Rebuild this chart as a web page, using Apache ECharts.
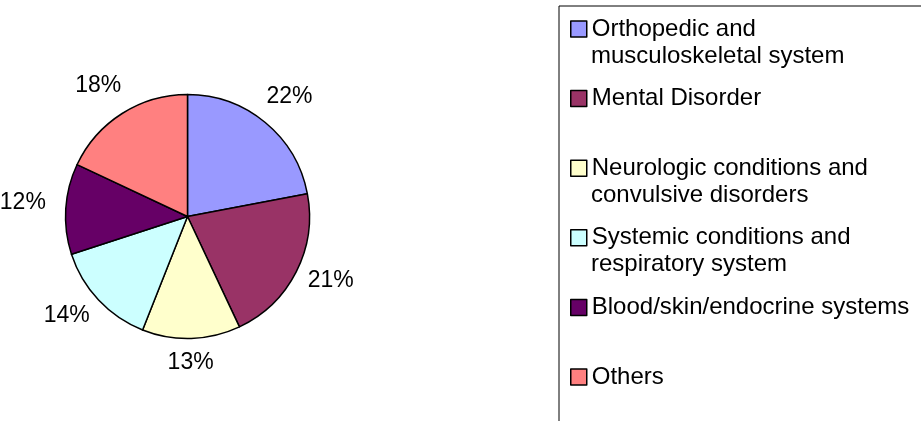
<!DOCTYPE html>
<html>
<head>
<meta charset="utf-8">
<script src="https://cdn.jsdelivr.net/npm/echarts@6/dist/echarts.min.js"></script>
<style>
  html, body { margin: 0; padding: 0; background: #fff; }
  #chart { width: 921px; height: 421px; }
</style>
</head>
<body>
<div id="chart"></div>
<script>
// categories (second line of a name goes under the first in the legend)
const categories = [
  'Orthopedic and\nmusculoskeletal system',
  'Mental Disorder',
  'Neurologic conditions and\nconvulsive disorders',
  'Systemic conditions and\nrespiratory system',
  'Blood/skin/endocrine systems',
  'Others'
];
const shares = [22, 21, 13, 14, 12, 18];
const colors = ['#9999FF', '#993366', '#FFFFCC', '#CCFFFF', '#660066', '#FF8080'];

const FONT = '"Liberation Sans", Arial, sans-serif';
const CX = 187.5, CY = 216.5, R = 122;

// legend geometry
const legendTop = 6, legendPadTop = 11, rowH = 69.6, lineH = 24, textX = 591;

const total = shares.reduce((a, b) => a + b, 0);

// place each percent label around the pie, a bit like excel does
function labelPos(i) {
  let cum = 0;
  for (let k = 0; k < i; k++) cum += shares[k];
  const a = (cum + shares[i] / 2) / total * Math.PI * 2;
  const dx = Math.sin(a), dy = -Math.cos(a);
  return {x: CX + dx * 163 - 2, y: CY + dy * 150 - 4};
}

const chart = echarts.init(document.getElementById('chart'));

const secondLines = [];
categories.forEach((name, i) => {
  const parts = name.split('\n');
  if (parts.length > 1) {
    const rowCenter = legendTop + legendPadTop + lineH / 2 + i * rowH;
    secondLines.push({
      type: 'text',
      x: textX,
      y: rowCenter + 27,
      silent: true,
      style: {
        text: parts[1],
        fill: '#000',
        fontSize: 24,
        fontFamily: FONT,
        verticalAlign: 'middle'
      }
    });
  }
});

const option = {
  animation: false,
  color: colors,
  legend: {
    orient: 'vertical',
    left: 559,
    top: legendTop,
    height: 800,
    padding: [legendPadTop, 80, 120, 11],
    itemGap: rowH - lineH,
    itemWidth: 16,
    itemHeight: 16,
    icon: 'rect',
    borderColor: '#000',
    borderWidth: 1,
    selectedMode: false,
    itemStyle: {borderColor: '#000', borderWidth: 1.5},
    textStyle: {fontSize: 24, fontFamily: FONT, color: '#000', lineHeight: lineH},
    formatter: name => name.split('\n')[0],
    data: categories
  },
  graphic: secondLines,
  series: [
    {
      type: 'pie',
      center: [CX, CY],
      radius: R,
      startAngle: 90,
      clockwise: true,
      avoidLabelOverlap: false,
      itemStyle: {borderColor: '#000', borderWidth: 1.5},
      label: {
        show: true,
        position: 'outside',
        fontSize: 23,
        fontFamily: FONT,
        color: '#000',
        formatter: p => Math.round(p.percent) + '%'
      },
      labelLine: {show: false},
      labelLayout: function (params) {
        const p = labelPos(params.dataIndex);
        return {x: p.x, y: p.y, align: 'center', verticalAlign: 'middle'};
      },
      emphasis: {disabled: true},
      data: categories.map((name, i) => ({name: name, value: shares[i]}))
    }
  ]
};

chart.setOption(option);
</script>
</body>
</html>
